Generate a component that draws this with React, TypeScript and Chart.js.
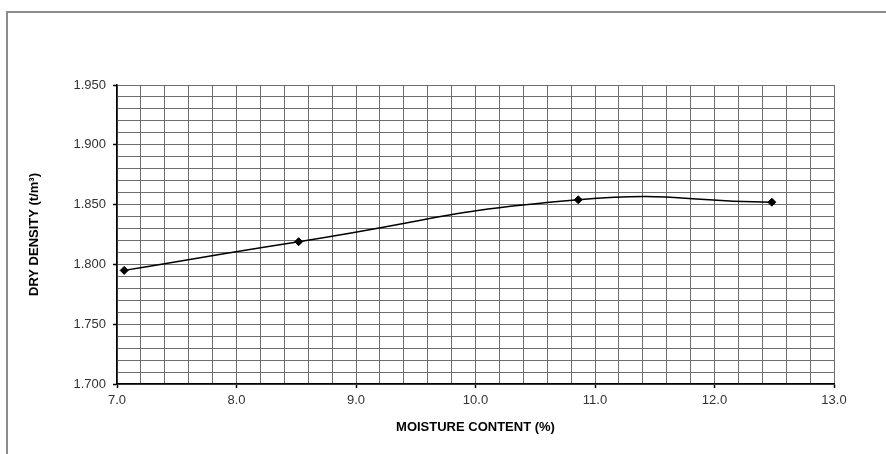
import { useEffect, useRef } from "react";
import { Chart, registerables } from "chart.js";

Chart.register(...registerables);

// Compaction test results
const moistureContent = [7.06, 8.52, 10.86, 12.48];
const dryDensity = [1.795, 1.819, 1.854, 1.852];

// Axis ranges and grid spacing
const xMin = 7.0;
const xMax = 13.0;
const xMinorStep = 0.2;
const xMajorEvery = 5;
const yMin = 1.7;
const yMax = 1.95;
const yMinorStep = 0.01;
const yMajorEvery = 5;

const FONT = '"Liberation Sans", Arial, sans-serif';

const frameBorder = {
  id: "frameBorder",
  beforeDraw(chart: Chart) {
    const { ctx, width, height } = chart;
    ctx.save();
    ctx.strokeStyle = "#8c8c8c";
    ctx.lineWidth = 2;
    ctx.beginPath();
    ctx.moveTo(7, height);
    ctx.lineTo(7, 12);
    ctx.lineTo(width, 12);
    ctx.stroke();
    ctx.restore();
  },
};

function gridValues(min: number, step: number, count: number) {
  const out: { value: number }[] = [];
  for (let i = 0; i <= count; i++) out.push({ value: +(min + i * step).toFixed(4) });
  return out;
}

export default function App() {
  const canvasRef = useRef<HTMLCanvasElement | null>(null);

  useEffect(() => {
    const canvas = canvasRef.current;
    if (!canvas) return;
    const xCount = Math.round((xMax - xMin) / xMinorStep);
    const yCount = Math.round((yMax - yMin) / yMinorStep);
    const isXMajor = (v: number) => Math.round((v - xMin) / xMinorStep) % xMajorEvery === 0;
    const isYMajor = (v: number) => Math.round((v - yMin) / yMinorStep) % yMajorEvery === 0;

    const chart = new Chart(canvas, {
      type: "scatter",
      data: {
        datasets: [
          {
            data: moistureContent.map((x, i) => ({ x, y: dryDensity[i] })),
            showLine: true,
            tension: 0.5,
            borderColor: "#000",
            borderWidth: 1.5,
            pointStyle: "rectRot",
            pointRadius: 4,
            pointBackgroundColor: "#000",
            pointBorderColor: "#000",
            pointBorderWidth: 1,
          },
        ],
      },
      plugins: [frameBorder],
      options: {
        responsive: false,
        animation: false,
        layout: { padding: { top: 85, right: 52, left: 0, bottom: 0 } },
        plugins: {
          legend: { display: false },
          tooltip: { enabled: false },
        },
        scales: {
          x: {
            type: "linear",
            min: xMin,
            max: xMax,
            afterBuildTicks: (scale: any) => {
              scale.ticks = gridValues(xMin, xMinorStep, xCount);
            },
            afterFit: (scale: any) => {
              scale.height = 70;
            },
            grid: {
              color: "#6e6e6e",
              lineWidth: 1,
              tickLength: 4,
              tickColor: (ctx: any) => (ctx.tick && isXMajor(ctx.tick.value) ? "#000" : "rgba(0,0,0,0)"),
              tickWidth: 1.5,
            },
            border: { display: true, color: "#000", width: 1.5 },
            ticks: {
              autoSkip: false,
              maxRotation: 0,
              padding: 5,
              color: "#333",
              font: { family: FONT, size: 13 },
              callback: (v: any) => (isXMajor(Number(v)) ? Number(v).toFixed(1) : ""),
            },
            title: {
              display: true,
              text: "MOISTURE CONTENT (%)",
              color: "#000",
              font: { family: FONT, size: 13, weight: "bold" },
              padding: { top: 0, bottom: 18.5 },
            },
          },
          y: {
            type: "linear",
            min: yMin,
            max: yMax,
            afterBuildTicks: (scale: any) => {
              scale.ticks = gridValues(yMin, yMinorStep, yCount);
            },
            afterFit: (scale: any) => {
              scale.width = 117;
            },
            grid: {
              color: "#6e6e6e",
              lineWidth: 1,
              tickLength: 4,
              tickColor: (ctx: any) => (ctx.tick && isYMajor(ctx.tick.value) ? "#000" : "rgba(0,0,0,0)"),
              tickWidth: 1.5,
            },
            border: { display: true, color: "#000", width: 1.5 },
            ticks: {
              autoSkip: false,
              padding: 7,
              color: "#333",
              font: { family: FONT, size: 13 },
              callback: (v: any) => (isYMajor(Number(v)) ? Number(v).toFixed(3) : ""),
            },
            title: {
              display: true,
              text: "DRY DENSITY (t/m³)",
              color: "#000",
              font: { family: FONT, size: 13, weight: "bold" },
              padding: { top: 27, bottom: 0 },
            },
          },
        },
      },
    } as any);

    return () => chart.destroy();
  }, []);

  return (
    <canvas
      ref={canvasRef}
      width={886}
      height={454}
      style={{ position: "fixed", left: 0, top: 0, width: 886, height: 454, display: "block", background: "#fff" }}
    />
  );
}
